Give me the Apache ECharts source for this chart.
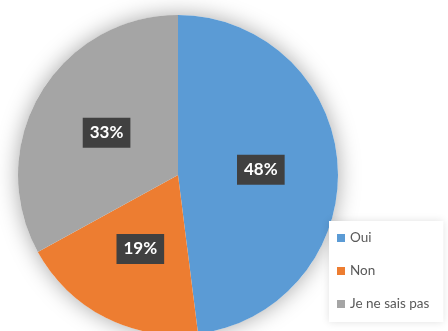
<!DOCTYPE html>
<html>
<head>
<meta charset="utf-8">
<script src="https://cdn.jsdelivr.net/npm/echarts@6/dist/echarts.min.js"></script>
<style>
  html, body { margin: 0; padding: 0; background: #ffffff; }
  #chart { width: 448px; height: 331px; }
</style>
</head>
<body>
<div id="chart"></div>
<script>
// Survey answers and their shares (percent)
const categories = ['Oui', 'Non', 'Je ne sais pas'];
const shares = [48, 19, 33];
const colors = ['#5B9BD5', '#ED7D31', '#A5A5A5'];

const chart = echarts.init(document.getElementById('chart'), null, { renderer: 'canvas' });

const center = [178, 175];
const radius = 160;

chart.setOption({
  backgroundColor: '#ffffff',
  animation: false,
  legend: {
    data: categories,
    orient: 'vertical',
    left: 329,
    top: 221,
    padding: [10, 14, 11, 8],
    backgroundColor: '#ffffff',
    shadowBlur: 8,
    shadowColor: 'rgba(0,0,0,0.12)',
    icon: 'rect',
    itemWidth: 8,
    itemHeight: 8,
    itemGap: 19,
    textStyle: {
      fontFamily: 'Lato',
      fontSize: 13.5,
      lineHeight: 14,
      color: '#595959'
    }
  },
  series: [
    {
      // soft drop shadow under the whole disc
      type: 'pie',
      silent: true,
      z: 1,
      center: center,
      radius: radius,
      label: { show: false },
      labelLine: { show: false },
      itemStyle: {
        color: '#ffffff',
        shadowBlur: 22,
        shadowColor: 'rgba(0,0,0,0.35)'
      },
      data: [{ value: 1, name: '' }]
    },
    {
      type: 'pie',
      z: 2,
      center: center,
      radius: radius,
      startAngle: 90,
      clockwise: true,
      label: {
        show: true,
        position: 'inside',
        formatter: '{c}%',
        fontFamily: 'Lato',
        fontWeight: 'bold',
        fontSize: 17,
        lineHeight: 18,
        color: '#ffffff',
        backgroundColor: '#404040',
        padding: [6, 7]
      },
      labelLine: { show: false },
      data: categories.map((name, i) => ({
        name: name,
        value: shares[i],
        itemStyle: { color: colors[i] }
      }))
    }
  ]
});
</script>
</body>
</html>
